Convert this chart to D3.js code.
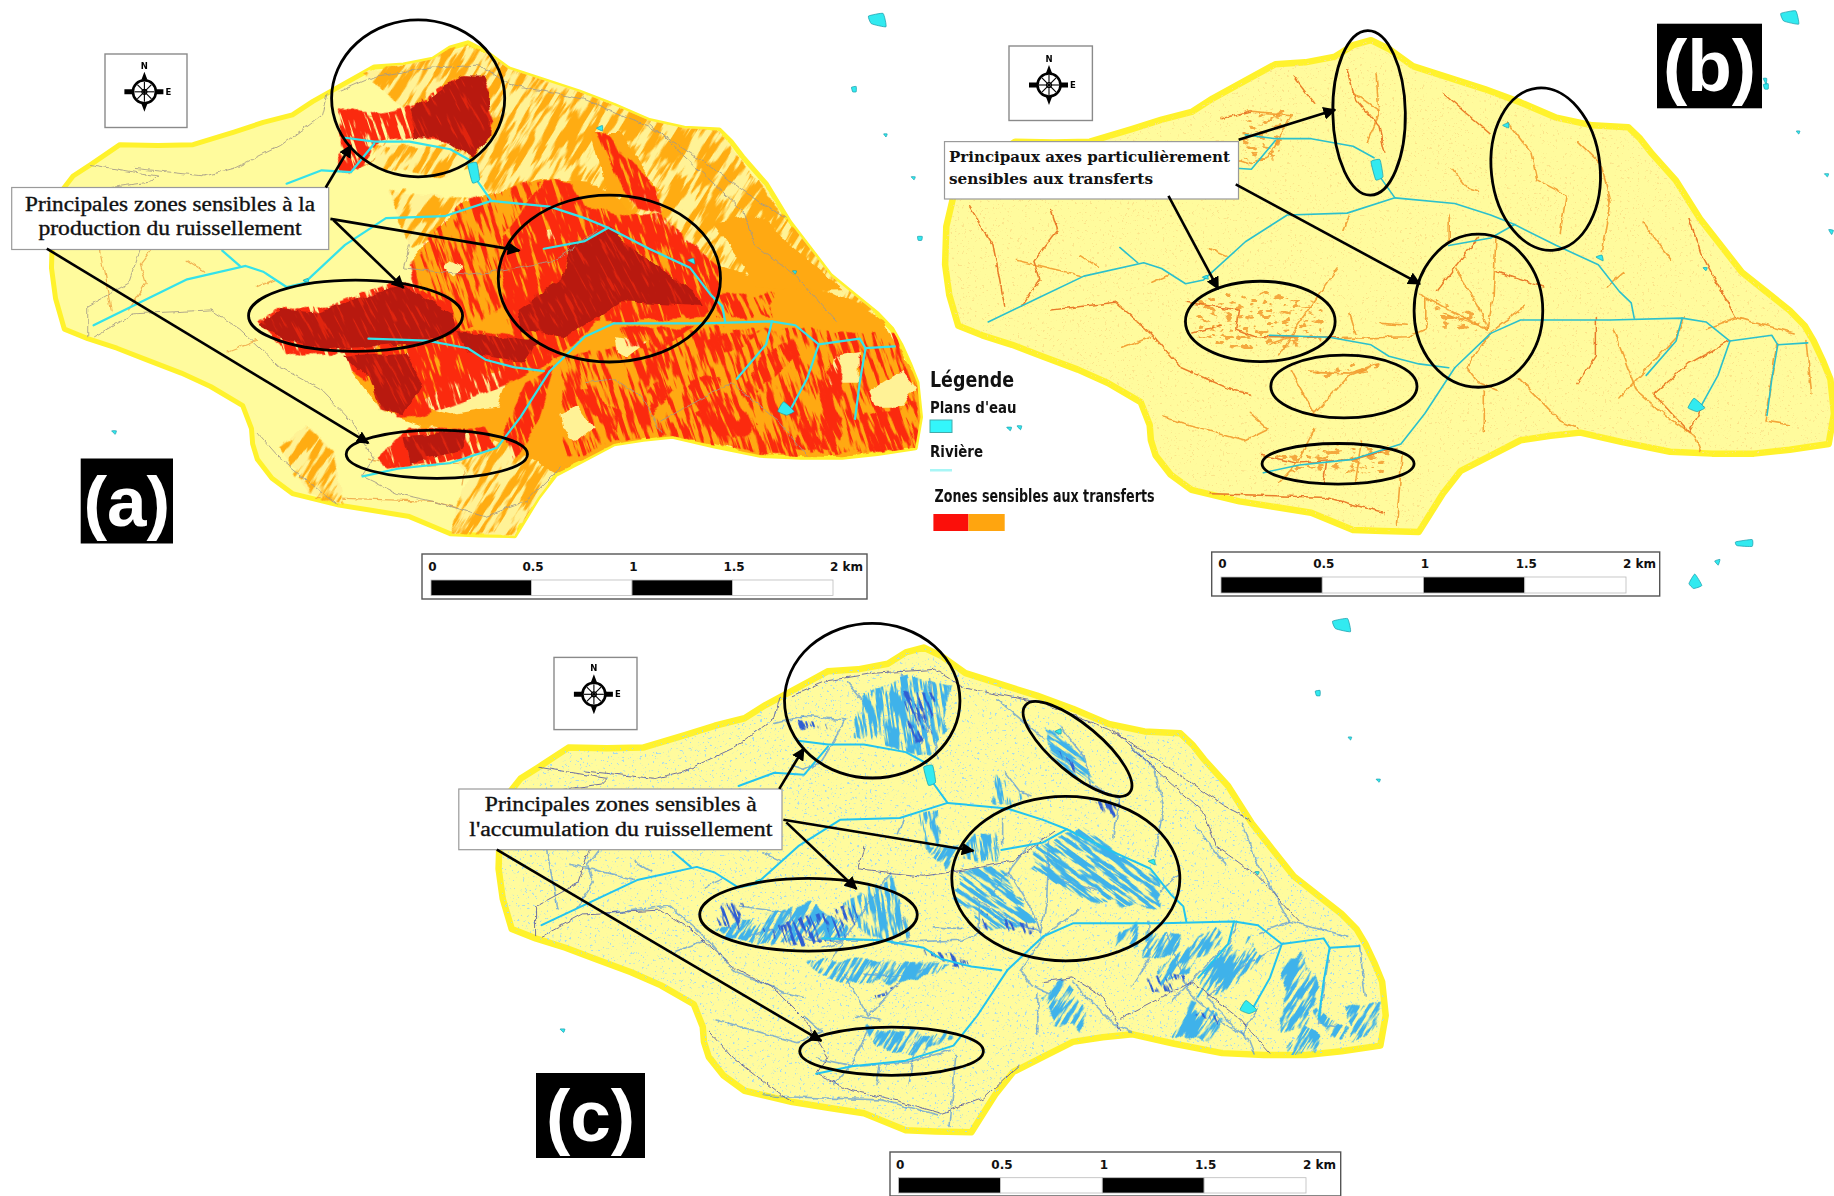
<!DOCTYPE html>
<html>
<head>
<meta charset="utf-8">
<script src="https://cdn.jsdelivr.net/npm/d3@7"></script>
<style>
  html, body { margin: 0; padding: 0; background: #fff; }
  svg { display: block; }
</style>
</head>
<body>
<svg id="chart" width="1834" height="1196"></svg>
<script>
// Catchment geometry, shared by all three maps
const outline = [[88,700],[90,600],[105,500],[125,460],[155,430],[205,378],[270,380],[330,378],[400,345],[450,320],[500,300],[535,265],[570,235],[605,205],[640,175],[690,170],[740,155],[770,125],[800,112],[830,135],[870,180],[930,210],[990,240],[1050,275],[1110,315],[1170,335],[1230,340],[1250,370],[1270,410],[1310,480],[1350,580],[1385,650],[1420,720],[1460,770],[1500,820],[1525,860],[1540,900],[1555,950],[1568,1000],[1574,1090],[1565,1170],[1500,1185],[1440,1195],[1370,1195],[1300,1190],[1220,1165],[1150,1140],[1100,1148],[1050,1160],[1000,1200],[950,1240],[920,1300],[900,1350],[880,1400],[820,1398],[770,1395],[700,1350],[640,1335],[580,1320],[500,1290],[465,1250],[440,1200],[432,1160],[430,1120],[415,1060],[360,1010],[310,975],[250,940],[200,910],[150,885],[110,860],[95,780]];

const rivers = [
  [[160,850],[240,790],[320,730],[420,695],[450,710],[490,750],[520,740],[590,640],[660,570],[760,565],[840,525],[940,540],[1000,570],[1040,595],[1110,650],[1180,700],[1215,770],[1235,800],[1240,840]],
  [[940,970],[1000,880],[1050,845],[1120,845],[1200,845],[1320,840],[1360,850],[1400,900],[1470,885],[1480,910],[1530,905]],
  [[840,525],[815,470],[805,440]],
  [[805,420],[770,390],[700,370],[640,370],[590,360]],
  [[640,375],[600,450],[550,445],[490,480]],
  [[380,655],[410,695]],
  [[930,650],[1000,630],[1040,595]],
  [[1320,840],[1310,900],[1260,990]],
  [[1400,900],[1380,990],[1350,1075]],
  [[1480,910],[1470,1000],[1462,1095]],
  [[630,885],[730,890],[800,910],[830,940],[880,960],[930,970]],
  [[940,970],[890,1090],[850,1170],[770,1210],[680,1225],[620,1245]]
];

const roads = [
  [[155,430],[250,455],[270,460],[260,475],[190,490]],
  [[230,440],[350,460],[400,440],[480,380],[550,300],[560,240]],
  [[580,240],[640,200],[720,180],[820,170],[870,220],[1000,260],[1110,330],[1200,420],[1300,530],[1360,580]],
  [[160,880],[230,820],[360,810],[410,860],[480,960],[550,1020],[600,1100],[640,1200],[620,1245],[680,1290],[740,1310],[830,1350],[900,1310],[960,1220]],
  [[1110,320],[1150,380],[1270,550],[1290,640],[1360,720],[1430,840]],
  [[700,640],[690,700],[800,720],[880,700],[950,680],[1020,600]],
  [[1000,1000],[1050,990],[1100,1040],[1130,1130]],
  [[1130,1100],[1250,1000],[1330,1100],[1380,1190]],
  [[440,1130],[480,1200],[560,1300],[580,1320]],
  [[240,650],[220,740],[150,800],[150,880]]
];

const lakes = [
  [[800,430],[815,425],[820,470],[808,478]],
  [[1330,1075],[1340,1050],[1358,1075],[1345,1085]],
  [[1020,335],[1030,328],[1030,342]],
  [[1176,680],[1186,675],[1188,690]],
  [[1355,708],[1362,708],[1360,716]],
  [[518,733],[526,728],[528,738]],
  [[1485,42],[1510,35],[1515,70],[1490,62]],
  [[1456,228],[1464,226],[1464,240],[1458,240]],
  [[1511,350],[1517,350],[1515,358]],
  [[1558,462],[1565,462],[1563,470]],
  [[191,1126],[199,1126],[197,1135]]
];
const lakesB = [[[1400,1416],[1428,1410],[1428,1428],[1402,1426]],[[1364,1466],[1373,1462],[1370,1477]],[[1330,1500],[1342,1530],[1328,1538],[1320,1525]],[[1,618],[9,618],[8,628],[2,628]],[[1447,205],[1453,205],[1452,220]],[[1559,600],[1567,602],[1564,613]],[[171,1113],[179,1113],[177,1123]]];

// Panel (a): zones sensibles a la production du ruissellement
const paleBase = [[[620,190],[800,120],[1000,245],[1230,345],[1350,580],[1500,820],[1230,830],[1000,500],[850,530],[800,420],[700,300]],[[770,1395],[880,1398],[950,1235],[880,1130],[700,1020],[720,1120],[800,1230]],[[640,380],[780,385],[800,440],[760,460],[640,440]],[[480,1170],[525,1110],[570,1180],[585,1320],[530,1290]],[[660,500],[800,520],[790,600],[700,640],[680,560]]];
const orangeSolid = [
  [[700,690],[790,530],[930,465],[1020,480],[1230,700],[1420,760],[1500,820],[1574,1000],[1590,1100],[1565,1170],[1440,1195],[1300,1190],[1150,1140],[1050,1160],[1000,1200],[950,1235],[880,1170],[820,1130],[720,1110],[650,1070],[600,970],[720,800]],
  [[1220,583],[1288,557],[1441,753],[1300,758]],
  [[1040,520],[1010,345],[1060,345],[1130,500]]
];
const redCore = [
  [[580,285],[650,295],[700,280],[712,360],[650,370],[620,430],[600,450],[580,445]],
  [[1018,345],[1040,360],[1120,490],[1130,560],[1090,545],[1060,480]],
  [[860,620],[930,470],[980,480],[1000,540],[1060,560],[1130,560],[1230,700],[1225,800],[1200,830],[1020,840],[960,930],[900,960],[860,800]],
  [[440,840],[470,805],[560,800],[680,730],[760,790],[790,860],[960,900],[940,950],[880,1000],[720,1090],[680,1090],[650,1020],[600,970],[590,925],[490,925]],
  [[645,1195],[700,1120],[830,1120],[850,1170],[760,1210],[660,1225]],
  [[860,1130],[900,1000],[950,950],[920,1100],[880,1200]],
  [[700,285],[790,200],[825,200],[838,240],[835,350],[810,410],[770,370],[710,360]]
];
const redBlobs = [
  [[1265,1027],[1300,933],[1351,888],[1368,922],[1311,1001],[1277,1053]],
  [[1168,1019],[1197,985],[1236,985],[1236,1053],[1192,1071]],
  [[1209,896],[1243,870],[1300,870],[1260,915],[1226,922]],
  [[1402,993],[1436,922],[1445,1079],[1431,1184],[1402,1168]],
  [[1465,1090],[1573,1053],[1556,1176],[1493,1176]],
  [[975,1019],[1021,1027],[1060,1079],[1055,1131],[1014,1079]],
  [[1180,1079],[1243,1027],[1300,1116],[1253,1150],[1209,1116]],
  [[1065,854],[1185,854],[1123,922],[1065,896]],
  [[1368,1079],[1402,1150],[1402,1176],[1363,1168]],
  [[1106,1019],[1129,993],[1151,1027],[1117,1079]],
  [[1230,770],[1320,770],[1320,830],[1230,830]]
];
const redHatch = [[[960,930],[1230,850],[1574,880],[1590,1175],[1300,1190],[1150,1140],[1050,1155],[960,1200]],[[700,690],[790,530],[930,465],[860,620],[860,800],[800,860],[720,800]]];
const darkSolid = [
  [[700,285],[790,200],[825,200],[838,240],[835,350],[810,410],[770,370],[710,360]],
  [[975,640],[1040,600],[1190,770],[1200,800],[1060,790],[990,860],[960,880],[890,860],[885,810],[960,730]],
  [[440,845],[480,805],[540,815],[620,775],[690,750],[770,820],[780,870],[740,890],[560,915],[480,880]],
  [[780,870],[920,890],[900,950],[800,920]],
  [[590,930],[690,920],[720,1000],[690,1085],[650,1070],[630,990]],
  [[690,1140],[800,1125],[790,1180],[700,1210]]
];
const paleHoles = [[[770,680],[795,700],[775,720],[760,700]],[[930,600],[955,600],[950,630],[930,630]],[[958,1079],[987,1058],[1014,1116],[987,1150],[963,1124]],[[1052,881],[1106,896],[1072,935],[1057,922]],[[760,990],[870,970],[850,1060],[770,1080],[720,1060]],[[690,920],[720,920],[720,950],[695,950]],[[1483,1027],[1544,967],[1568,1011],[1544,1063],[1493,1063]],[[1430,930],[1470,920],[1470,1000],[1420,1000]],[[665,310],[700,310],[700,360],[675,360]],[[1010,640],[1020,700],[1000,720],[995,660]]];

// Panel (b): axes de transfert, in the crop frame of that panel
const transferAxes = [
  [[735,180],[750,260],[790,330],[800,400]],[[785,190],[790,300],[770,370]],[[745,240],[790,290]],[[645,200],[680,270]],
  [[565,290],[640,300],[620,360],[600,410],[570,430],[550,420]],[[1010,320],[1050,400],[1060,470],[1110,510],[1100,610]],
  [[900,245],[980,350]],[[1130,370],[1170,430],[1185,530],[1170,660]],[[915,440],[940,490],[960,500]],
  [[460,790],[550,810],[545,860],[580,880],[640,880],[720,880]],[[600,900],[640,880]],[[720,700],[650,850],[640,880],[620,930]],[[470,870],[520,850]],
  [[990,620],[985,780],[975,860],[920,820],[860,770]],[[920,700],[960,800],[975,860]],[[990,710],[1070,750]],
  [[870,780],[870,860],[840,880],[720,885]],[[900,820],[960,850]],[[960,620],[920,700],[890,760]],
  [[1040,800],[980,870],[940,960],[960,1000],[990,1020]],[[670,970],[740,975],[790,950],[740,980],[680,1080],[650,1000],[640,970]],
  [[660,1080],[700,1090]],[[740,820],[750,870]],[[790,845],[840,850]],[[230,550],[240,600],[200,680],[210,730],[180,800]],
  [[170,680],[280,720]],[[280,670],[310,700]],[[230,810],[340,790],[400,870],[450,960],[540,1020],[570,1030]],[[400,880],[350,910]],
  [[1350,860],[1400,830],[1500,870]],[[1160,830],[1160,930],[1130,1000]],[[1190,860],[1230,1020],[1290,1100],[1330,1140],[1340,1180]],
  [[1310,830],[1300,880],[1200,1040]],[[1390,890],[1320,950],[1260,1030],[1320,1130],[1345,1060]],[[1030,990],[1100,1100],[1130,1120]],
  [[970,1020],[970,1130]],[[590,1190],[650,1210],[750,1200],[820,1170]],[[680,1120],[650,1210],[620,1260]],[[760,1150],[750,1260]],
  [[700,1210],[695,1260]],[[830,1180],[820,1370]],[[420,1090],[560,1150],[600,1120],[570,1080]],[[500,1290],[700,1300],[800,1340]],
  [[1520,890],[1530,1030]],[[1470,900],[1450,1100],[1490,1110]],[[1320,570],[1340,660],[1400,830]],[[1240,580],[1290,680]],
  [[1210,710],[1180,750]],[[90,540],[130,640],[150,800]],[[730,600],[740,560]],[[910,560],[910,630]],[[520,310],[570,290]],
  [[400,740],[430,720]],[[500,650],[530,670]]
];
const transferClusters = [[[480,780],[600,760],[700,800],[690,900],[560,930],[480,880]],[[610,1190],[700,1165],[820,1175],[800,1230],[640,1235]],[[880,780],[960,830],[965,870],[890,850]],[[670,960],[790,945],[770,975],[680,985]],[[560,300],[640,290],[610,420],[560,420]]];

// Panel (c): zones d'accumulation, in the crop frame of that panel
const accumNorth = [[[690,320],[710,245],[790,195],[855,225],[845,345],[820,415],[780,400],[690,355]],[[805,560],[835,560],[835,650],[805,650]],[[895,610],[935,610],[935,690],[875,680]],[[670,800],[755,725],[785,885],[715,885]],[[935,460],[980,515],[965,550],[930,525]]];
const accumCentre = [[[1005,640],[1085,600],[1220,745],[1215,815],[1080,785],[995,705]],[[875,715],[935,695],[1005,855],[930,870],[865,795]],[[1015,335],[1060,375],[1115,485],[1075,480],[1025,405]]];
const accumSouth = [
  [[445,865],[620,795],[695,885],[520,905]],[[1205,970],[1311,858],[1325,890],[1243,1000],[1215,1010]],[[1275,1040],[1300,950],[1368,877],[1390,940],[1325,1028],[1285,1062]],
  [[1420,1130],[1432,1026],[1414,973],[1459,919],[1486,1026],[1465,1115]],[[1534,1075],[1590,1055],[1585,1130],[1538,1160]],[[1426,1198],[1460,1115],[1498,1150],[1482,1192]],
  [[1233,1145],[1265,1050],[1330,1100],[1300,1160]],[[1475,1065],[1530,1120],[1525,1160],[1482,1105]],[[1016,1050],[1048,990],[1087,1071],[1080,1140],[1035,1115]],
  [[1131,895],[1175,850],[1178,905],[1128,930]],[[710,1125],[860,1145],[795,1200],[725,1178]],[[610,945],[860,955],[805,1000],[675,1010],[630,985]],
  [[1190,875],[1250,875],[1238,935],[1182,935]],[[810,655],[870,645],[845,710]]
];
const accumDark = [
  [[585,320],[650,320],[650,340],[590,340]],[[770,235],[835,245],[825,355],[795,385]],[[465,795],[505,795],[495,865],[455,855]],
  [[525,865],[695,795],[685,895],[575,905]],[[1190,1003],[1226,976],[1260,995],[1248,1039],[1205,1030]],[[1035,395],[1080,455],[1055,455]],
  [[905,815],[1005,870],[995,885],[915,865]],[[805,915],[895,950],[860,965]],[[695,1060],[765,1015],[700,1085]],[[1275,1095],[1325,1085],[1315,1120]],[[1105,525],[1145,525],[1135,575]]
];

const ellipsesA = [[715,257,148,205,0],[1042,728,190,218,0],[608,825,183,93,0],[747,1187,155,63,0]];
const ellipsesB = [[773,295,62,215,-1],[1075,442,93,213,-6],[960,812,110,200,0],[587,840,128,105,0],[730,1010,125,82,0],[720,1212,130,53,0]];
const ellipsesC = [[722,265,150,202,0],[1073,392,112,46,40],[1053,733,195,215,0],[613,828,186,95,0],[755,1187,157,63,0]];

const arrowsA = [[[557,490],[600,380]],[[565,572],[888,655]],[[570,575],[690,752]],[[80,650],[630,1158]]];
const arrowsB = [[[550,365],[715,287]],[[430,512],[515,755]],[[545,482],[860,742]]];
const arrowsC = [[[563,497],[605,390]],[[570,578],[895,660]],[[575,585],[695,760]],[[80,657],[635,1160]]];

const kmTicks = [0, 0.5, 1, 1.5, 2];

const svg = d3.select('#chart');
const defs = svg.append('defs');

// Filters stand in for the raster look of the original maps:
// rough = wobbly edges, streak = keeps only elongated slivers of the shape
function roughFilter(id, freq, scale, seed) {
  const f = defs.append('filter').attr('id', id).attr('x', '-5%').attr('y', '-5%').attr('width', '110%').attr('height', '110%')
    .attr('color-interpolation-filters', 'sRGB');
  f.append('feTurbulence').attr('type', 'fractalNoise').attr('baseFrequency', freq).attr('numOctaves', 3).attr('seed', seed).attr('result', 'n');
  f.append('feDisplacementMap').attr('in', 'SourceGraphic').attr('in2', 'n').attr('scale', scale).attr('xChannelSelector', 'R').attr('yChannelSelector', 'G');
}
function streakFilter(id, freq, thresh, seed, scale) {
  const k = 12;
  const f = defs.append('filter').attr('id', id).attr('x', '-5%').attr('y', '-5%').attr('width', '110%').attr('height', '110%')
    .attr('color-interpolation-filters', 'sRGB');
  f.append('feTurbulence').attr('type', 'fractalNoise').attr('baseFrequency', freq).attr('numOctaves', 3).attr('seed', seed).attr('result', 'n');
  f.append('feColorMatrix').attr('in', 'n').attr('type', 'matrix')
    .attr('values', '0 0 0 0 0  0 0 0 0 0  0 0 0 0 0  ' + k + ' 0 0 0 ' + (-k * thresh)).attr('result', 'm');
  f.append('feTurbulence').attr('type', 'fractalNoise').attr('baseFrequency', 0.05).attr('numOctaves', 2).attr('seed', seed + 3).attr('result', 'w');
  f.append('feDisplacementMap').attr('in', 'SourceGraphic').attr('in2', 'w').attr('scale', scale || 12).attr('xChannelSelector', 'R').attr('yChannelSelector', 'G').attr('result', 'd');
  f.append('feComposite').attr('in', 'd').attr('in2', 'm').attr('operator', 'in');
}
roughFilter('rough', 0.05, 10, 4);
roughFilter('roughFine', 0.1, 5, 9);
streakFilter('stHalf', '0.025 0.2', 0.49, 2);
streakFilter('stPale', '0.022 0.15', 0.46, 17);
streakFilter('stThin', '0.03 0.3', 0.6, 7);
streakFilter('stDense', '0.03 0.2', 0.4, 11);
streakFilter('stCore', '0.03 0.25', 0.34, 19, 8);
streakFilter('stBlue', '0.03 0.28', 0.43, 5, 14);
streakFilter('stBlueDark', '0.04 0.3', 0.52, 13, 14);
streakFilter('speckle', '0.4 0.4', 0.66, 21, 1);
streakFilter('speckleDense', '0.12 0.2', 0.58, 23, 16);

function makePanel(x0, y0, H, mapX, mapY) {
  const cx = d3.scaleLinear([0, 1568], [x0, x0 + 917]);
  const cy = d3.scaleLinear([0, 1568], [y0, y0 + H]);
  return {
    cx, cy,
    x: d3.scaleLinear([85, 1574], mapX.map(cx)),
    y: d3.scaleLinear([112, 1400], mapY.map(cy)),
    px: x0 + 458, py: y0 + 300
  };
}
const panelA = makePanel(0, 0, 600, [85, 1574], [112, 1400]);
const panelB = makePanel(917, 0, 600, [45, 1568], [105, 1390]);
const panelC = makePanel(450, 600, 596, [80, 1600], [125, 1400]);

const pathIn = (xs, ys, curve) => d3.line().x(d => xs(d[0])).y(d => ys(d[1])).curve(curve || d3.curveLinear);

function drawPolys(g, xs, ys, polys, fill, filter) {
  const t = filter ? g.append('g').attr('filter', 'url(#' + filter + ')') : g;
  t.selectAll(null).data(polys).join('path')
    .attr('d', d => pathIn(xs, ys, d3.curveLinearClosed)(d))
    .attr('fill', fill);
}
// the group is turned so that the noise of the filter runs along the slope
function drawStreaks(g, p, xs, ys, polys, fill, filter, angle) {
  const piv = p.px + ',' + p.py;
  const t = g.append('g').attr('transform', 'rotate(' + angle + ',' + piv + ')').attr('filter', 'url(#' + filter + ')');
  t.selectAll(null).data(polys).join('path')
    .attr('transform', 'rotate(' + (-angle) + ',' + piv + ')')
    .attr('d', d => pathIn(xs, ys, d3.curveLinearClosed)(d))
    .attr('fill', fill);
}
function drawLines(g, xs, ys, lines, color, w, op, filter) {
  const t = filter ? g.append('g').attr('filter', 'url(#' + filter + ')') : g;
  t.selectAll(null).data(lines).join('path')
    .attr('d', d => pathIn(xs, ys)(d))
    .attr('fill', 'none').attr('stroke', color).attr('stroke-width', w)
    .attr('stroke-linejoin', 'round').attr('stroke-linecap', 'round')
    .attr('stroke-opacity', op === undefined ? 1 : op);
}

function baseMap(p, id, sw) {
  const g = svg.append('g');
  const d = pathIn(p.x, p.y, d3.curveLinearClosed)(outline);
  defs.append('clipPath').attr('id', id).append('path').attr('d', d);
  g.append('path').attr('d', d).attr('fill', '#fffb9d').attr('stroke', '#fff22c').attr('stroke-width', sw).attr('stroke-linejoin', 'round');
  return { g, d, inner: g.append('g').attr('clip-path', 'url(#' + id + ')') };
}

function drawLakes(g, p, list) {
  g.selectAll(null).data(list).join('path')
    .attr('d', d => pathIn(p.x, p.y, d3.curveCardinalClosed.tension(0.6))(d))
    .attr('fill', '#32eaf0').attr('stroke', '#159aa8').attr('stroke-width', 0.7);
}

function drawEllipses(p, list) {
  svg.append('g').selectAll('ellipse').data(list).join('ellipse')
    .attr('transform', d => 'translate(' + p.cx(d[0]) + ',' + p.cy(d[1]) + ') rotate(' + d[4] + ')')
    .attr('rx', d => d[4] === 40 ? 68 : d[2] * 917 / 1568)
    .attr('ry', d => d[4] === 40 ? 24 : d[3] * 600 / 1568)
    .attr('fill', 'none').attr('stroke', '#000').attr('stroke-width', 2.8);
}

defs.append('marker').attr('id', 'tip').attr('viewBox', '0 0 10 10').attr('refX', 9).attr('refY', 5)
  .attr('markerWidth', 5).attr('markerHeight', 5).attr('orient', 'auto')
  .append('path').attr('d', 'M0,0L10,5L0,10Z').attr('fill', '#000');

function drawArrows(p, list) {
  svg.append('g').selectAll('line').data(list).join('line')
    .attr('x1', d => p.cx(d[0][0])).attr('y1', d => p.cy(d[0][1]))
    .attr('x2', d => p.cx(d[1][0])).attr('y2', d => p.cy(d[1][1]))
    .attr('stroke', '#000').attr('stroke-width', 2.6).attr('marker-end', 'url(#tip)');
}

function labelBox(x, y, w, h) {
  svg.append('rect').attr('x', x).attr('y', y).attr('width', w).attr('height', h)
    .attr('fill', '#fff').attr('stroke', '#9a9a9a').attr('stroke-width', 1.2);
}
function boxText(x, y, str, len, anchor, font, size, weight, halo) {
  svg.append('text').attr('x', x).attr('y', y).text(str)
    .attr('text-anchor', anchor).attr('font-family', font).attr('font-size', size).attr('font-weight', weight)
    .attr('fill', '#111').attr('stroke', halo ? '#111' : null).attr('stroke-width', halo || null)
    .attr('textLength', len).attr('lengthAdjust', 'spacingAndGlyphs');
}

function compass(bx, by, bw, bh, cxp, cyp) {
  const g = svg.append('g');
  g.append('rect').attr('x', bx).attr('y', by).attr('width', bw).attr('height', bh)
    .attr('fill', '#fff').attr('stroke', '#8a8a8a').attr('stroke-width', 1.4);
  const c = g.append('g').attr('transform', 'translate(' + cxp + ',' + cyp + ')');
  c.append('path').attr('d', 'M-3,-12L0,-20L3,-12ZM-3,12L0,20L3,12ZM-12,-2.5L-20,-2.5L-20,2.5L-12,2.5ZM12,-2.5L19,-2.5L19,2.5L12,2.5Z').attr('fill', '#000');
  c.append('circle').attr('r', 11.5).attr('fill', '#fff').attr('stroke', '#000').attr('stroke-width', 2.6);
  c.append('circle').attr('r', 2.5).attr('fill', 'none').attr('stroke', '#000').attr('stroke-width', 1.2);
  d3.range(0, 180, 45).forEach(a => c.append('line').attr('x1', -10).attr('x2', 10)
    .attr('transform', 'rotate(' + a + ')').attr('stroke', '#000').attr('stroke-width', 1.1));
  c.append('text').attr('y', -23).attr('text-anchor', 'middle').text('N')
    .attr('font-family', 'DejaVu Sans').attr('font-weight', 'bold').attr('font-size', 8.5);
  c.append('text').attr('x', 21).attr('y', 3).text('E')
    .attr('font-family', 'DejaVu Sans').attr('font-weight', 'bold').attr('font-size', 8.5);
}

function tag(x, y, w, h, str, size, base) {
  svg.append('rect').attr('x', x).attr('y', y).attr('width', w).attr('height', h).attr('fill', '#000');
  svg.append('text').attr('x', x + w / 2).attr('y', base).text(str).attr('text-anchor', 'middle')
    .attr('font-family', 'Liberation Sans').attr('font-weight', 'bold').attr('font-size', size).attr('fill', '#fff');
}

function scaleBar(bx, by, bw, bh, x1, x2, barY, barH, labelY) {
  const g = svg.append('g');
  g.append('rect').attr('x', bx).attr('y', by).attr('width', bw).attr('height', bh)
    .attr('fill', '#fff').attr('stroke', '#555').attr('stroke-width', 1.4);
  const km = d3.scaleLinear([0, 2], [x1, x2]);
  g.selectAll(null).data(d3.pairs(kmTicks)).join('rect')
    .attr('x', d => km(d[0])).attr('y', barY).attr('width', d => km(d[1]) - km(d[0])).attr('height', barH)
    .attr('fill', (d, i) => i % 2 ? '#fff' : '#000').attr('stroke', '#bbb').attr('stroke-width', 0.8);
  const ax = g.append('g').attr('transform', 'translate(0,' + (labelY + 5) + ')')
    .call(d3.axisTop(km).tickValues(kmTicks).tickSize(0).tickPadding(0).tickFormat(d => d === 2 ? '2 km' : d));
  ax.select('.domain').remove();
  ax.selectAll('text').attr('font-family', 'DejaVu Sans').attr('font-weight', 'bold').attr('font-size', 12).attr('fill', '#111')
    .attr('dx', d => d === 2 ? 13 : 1);
}

// ---- panel (a)
{
  const p = panelA, m = baseMap(p, 'clipA', 5);
  const g = m.inner;
  const netX = v => p.cx(v + 40), netY = v => p.cy(v + 10);
  drawLines(g, netX, netY, transferAxes.filter((d, i) => i % 2 === 0), '#eea040', 1.2, 0.8, 'roughFine');
  drawPolys(g, p.x, p.y, paleBase, '#fff296', 'rough');
  drawStreaks(g, p, p.x, p.y, paleBase, '#ffac12', 'stPale', -58);
  drawPolys(g, p.x, p.y, orangeSolid, '#ffa912', 'rough');
  drawStreaks(g, p, p.x, p.y, redHatch, '#fb2a0e', 'stHalf', 72);
  drawPolys(g, p.x, p.y, paleHoles, '#fff296', 'rough');
  drawStreaks(g, p, p.x, p.y, redCore, '#fb2a0e', 'stCore', 72);
  drawStreaks(g, p, p.x, p.y, redBlobs, '#fb2a0e', 'stDense', 66);
  drawPolys(g, p.x, p.y, darkSolid, '#b8190f', 'rough');
  drawStreaks(g, p, p.x, p.y, darkSolid, '#e0240e', 'stThin', 62);
  drawLines(g, p.x, p.y, roads, '#a39a88', 1, 0.85, 'roughFine');
  drawLines(g, p.x, p.y, rivers, '#34e2ea', 2.2);
  drawLakes(svg, p, lakes);
  labelBox(11.7, 187.5, 317, 62);
  boxText(170, 210.5, 'Principales zones sensibles à la', 290, 'middle', 'Liberation Serif', 20, 'normal', 0.35);
  boxText(170, 235, 'production du ruissellement', 263, 'middle', 'Liberation Serif', 20, 'normal', 0.35);
  drawEllipses(p, ellipsesA);
  drawArrows(p, arrowsA);
  compass(105, 54, 82, 73.5, 144.4, 91.8);
  tag(80.7, 458.5, 92.3, 85, '(a)', 71, 526);
  scaleBar(422, 554, 445, 45, 431, 833, 580, 15.5, 566);
}

// ---- panel (b)
{
  const p = panelB, m = baseMap(p, 'clipB', 6.5);
  const g = m.inner;
  g.append('g').attr('filter', 'url(#speckle)').append('path').attr('d', m.d).attr('fill', '#fbe38a');
  drawPolys(g, p.cx, p.cy, transferClusters, '#f4a83e', 'speckleDense');
  drawLines(g, p.cx, p.cy, transferAxes, '#f29a2e', 1.6, 0.9, 'roughFine');
  drawLines(g, p.cx, p.cy, transferAxes.filter((d, i) => i % 3 === 0), '#e2622a', 0.9, 0.8, 'roughFine');
  drawLines(g, p.x, p.y, rivers, '#2cc0cc', 1.6);
  drawLakes(svg, p, lakes);
  drawLakes(svg, { x: p.cx, y: p.cy }, lakesB);
  labelBox(944.5, 141.6, 294, 57.4);
  boxText(949, 161.5, 'Principaux axes particulièrement', 281, 'start', 'DejaVu Serif', 14, 'bold');
  boxText(949, 183.7, 'sensibles aux transferts', 204, 'start', 'DejaVu Serif', 14, 'bold');
  drawEllipses(p, ellipsesB);
  drawArrows(p, arrowsB);
  compass(1009, 46, 83.4, 74.5, 1049, 85);
  tag(1657, 23.7, 105, 84.6, '(b)', 73, 91);
  scaleBar(1211.7, 552, 448, 44, 1221, 1626, 577, 16, 563);
}

// ---- panel (c)
{
  const p = panelC, m = baseMap(p, 'clipC', 6.5);
  const g = m.inner;
  const netX = v => p.cx(v + 35), netY = v => p.cy(v + 15);
  g.append('g').attr('filter', 'url(#speckle)').append('path').attr('d', m.d).attr('fill', '#a6daf0');
  drawLines(g, netX, netY, transferAxes, '#4a8ee0', 1.6, 0.65, 'roughFine');
  drawStreaks(g, p, p.cx, p.cy, accumNorth, '#3fb2ea', 'stBlue', 82);
  drawStreaks(g, p, p.cx, p.cy, accumCentre, '#3fb2ea', 'stBlue', 36);
  drawStreaks(g, p, p.cx, p.cy, accumSouth, '#3fb2ea', 'stBlue', -58);
  drawStreaks(g, p, p.cx, p.cy, accumDark, '#2f5fd2', 'stBlueDark', 70);
  drawLines(g, p.x, p.y, roads, '#62629e', 1, 0.9, 'roughFine');
  drawLines(g, p.x, p.y, rivers, '#22c4f0', 2);
  drawLakes(svg, p, lakes);
  labelBox(458.8, 789, 323.2, 60.7);
  boxText(620.8, 811, 'Principales zones sensibles à', 272, 'middle', 'Liberation Serif', 20, 'normal', 0.35);
  boxText(620.8, 836.4, "l'accumulation du ruissellement", 303, 'middle', 'Liberation Serif', 20, 'normal', 0.35);
  drawEllipses(p, ellipsesC);
  drawArrows(p, arrowsC);
  compass(554, 657.4, 83, 72.2, 593.9, 694.3);
  tag(536, 1073, 109, 85, '(c)', 73, 1141);
  scaleBar(890, 1152, 450.7, 44, 898.6, 1306, 1177.7, 15.3, 1163.6);
}

// ---- legend
{
  const g = svg.append('g').attr('font-family', 'DejaVu Sans').attr('fill', '#111').attr('font-weight', 'bold');
  const t = (x, y, s, size, len) => g.append('text').attr('x', x).attr('y', y).text(s).attr('font-size', size)
    .attr('textLength', len).attr('lengthAdjust', 'spacingAndGlyphs');
  t(930, 387, 'Légende', 21, 84);
  t(930, 412.5, "Plans d'eau", 15, 86.5);
  g.append('rect').attr('x', 930).attr('y', 420).attr('width', 22).attr('height', 12.5)
    .attr('fill', '#33f6fb').attr('stroke', '#4aa').attr('stroke-width', 1);
  t(930, 456.5, 'Rivière', 15, 53);
  g.append('rect').attr('x', 930).attr('y', 469).attr('width', 22).attr('height', 2.5).attr('fill', '#a8f6f6');
  t(934.5, 502, 'Zones sensibles aux transferts', 18, 220);
  g.append('rect').attr('x', 933.4).attr('y', 514).attr('width', 35.1).attr('height', 17).attr('fill', '#fb0f0a');
  g.append('rect').attr('x', 968.5).attr('y', 514).attr('width', 36.2).attr('height', 17).attr('fill', '#ffa50f');
}
</script>
</body>
</html>
